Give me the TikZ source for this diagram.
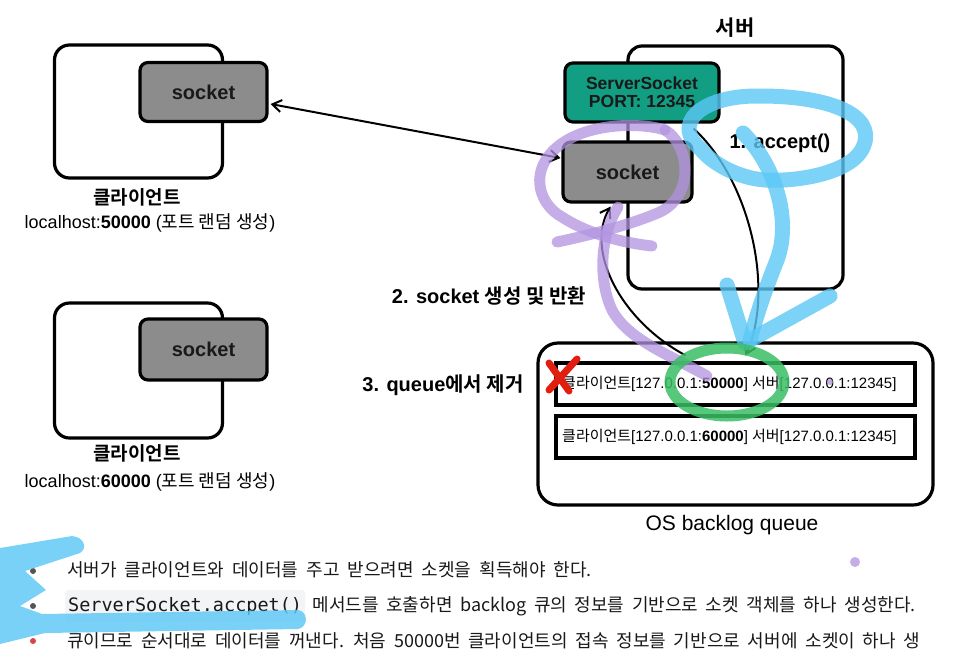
\documentclass[tikz,border=0pt]{standalone}
\usepackage{fontspec}
\setmainfont{Liberation Sans}
\newfontfamily\kr[BoldFont={Noto Sans CJK KR Bold}]{Noto Sans CJK KR}
\newfontfamily\krb{Noto Sans CJK KR Bold}
\setmonofont{DejaVu Sans Mono}
\usetikzlibrary{arrows.meta,calc}
\definecolor{sockgray}{RGB}{140,140,140}
\definecolor{teal}{RGB}{17,158,130}
\definecolor{purp}{RGB}{178,148,225}
\definecolor{skyb}{RGB}{92,200,246}
\definecolor{grn}{RGB}{58,190,100}
\definecolor{redx}{RGB}{225,30,15}
\definecolor{codebg}{RGB}{243,244,246}
\definecolor{bulg}{RGB}{85,85,85}
\definecolor{bulr}{RGB}{215,70,70}
\definecolor{ink}{RGB}{25,25,25}
\newcommand\K[1]{{\kr #1}}
\newcommand\KB[1]{{\krb #1}}
\newcommand\fs[1]{\fontsize{#1}{#1}\selectfont}
\newcommand\wsp[1]{\spaceskip=#1pt plus 1pt minus 1pt\relax}
\tikzset{
  outerbox/.style={draw, line width=3.2pt, rounded corners=15pt, inner sep=0pt},
  sockbox/.style={draw, line width=3.2pt, rounded corners=8pt, fill=sockgray, inner sep=0pt, font=\bfseries\fs{20}, text=ink},
  rowbox/.style={draw, line width=3.2pt, inner sep=0pt, minimum width=359pt, minimum height=42pt},
  lbl/.style={inner sep=0pt},
  note/.style={inner sep=0pt, anchor=west, text=ink},
  barb/.tip={Straight Barb[length=9pt,width=12pt,line width=2pt]},
  arr/.style={line width=2pt, -barb},
  scrP/.style={draw=purp, line width=11pt, opacity=0.75, line cap=round, line join=round},
  scrB/.style={draw=skyb, line width=15pt, opacity=0.8, line cap=round, line join=round},
  scrG/.style={draw=grn, line width=11pt, opacity=0.85, line cap=round},
}
\begin{document}
\begin{tikzpicture}[x=1pt,y=-1pt]
\useasboundingbox (0,0) rectangle (976,665);
\fill[white] (0,0) rectangle (976,665);

% clients
\node[outerbox, minimum width=168pt, minimum height=133pt] (c1out) at (138.5,111.5) {};
\node[sockbox, minimum width=127pt, minimum height=59pt] (c1sock) at (203.5,92) {socket};
\node[lbl, font=\fs{19}] (c1name) at (137,197) {\KB{클라이언트}};
\node[lbl, font=\fs{18}] (c1host) at (150,223) {localhost:\textbf{50000} (\K{포트 랜덤 생성})};

\node[outerbox, minimum width=168pt, minimum height=135pt] (c2out) at (138.5,370.5) {};
\node[sockbox, minimum width=127pt, minimum height=61pt] (c2sock) at (203.5,349.5) {socket};
\node[lbl, font=\fs{19}] (c2name) at (137,453) {\KB{클라이언트}};
\node[lbl, font=\fs{18}] (c2host) at (150,482) {localhost:\textbf{60000} (\K{포트 랜덤 생성})};

% server
\node[outerbox, rounded corners=14pt, minimum width=215pt, minimum height=243pt] (srv) at (735.5,167.5) {};
\node[lbl, font=\fs{21}] (srvname) at (735,28) {\KB{서버}};
\node[sockbox, fill=teal, minimum width=154pt, minimum height=59pt, font=\bfseries\fs{17.5}, align=center] (ss) at (642,92.5) {ServerSocket\\[0pt]PORT: 12345};
\node[sockbox, minimum width=129pt, minimum height=60pt] (ssock) at (627.5,172) {socket};

% queue
\node[outerbox, rounded corners=20pt, minimum width=395pt, minimum height=162pt] (queue) at (735.5,424) {};
\node[rowbox] (row1) at (735.5,384) {};
\node[rowbox] (row2) at (735.5,437) {};
\node[lbl, anchor=west, font=\fs{15}] (row1t) at (562,384) {\K{클라이언트}[127.0.0.1:\textbf{50000}] \K{서버}[127.0.0.1:12345]};
\node[lbl, anchor=west, font=\fs{15}] (row2t) at (562,437) {\K{클라이언트}[127.0.0.1:\textbf{60000}] \K{서버}[127.0.0.1:12345]};
\node[lbl, font=\fs{21}] (qname) at (732,525) {OS backlog queue};

% step labels
\node[lbl, font=\fs{20}] (s1) at (780,143) {\textbf{1. accept()}};
\node[lbl, font=\fs{20}] (s2) at (489,296) {\textbf{2. socket} \KB{생성 및 반환}};
\node[lbl, font=\fs{20}] (s3) at (443,385) {\textbf{3. queue}\KB{에서 제거}};

% connectors
\draw[line width=2pt, barb-barb]
  ($(c1sock.east)+(2,12)$) -- ($(ssock.west)+(-1,-14)$);
\draw[arr] ($(ss.south east)+(-27,5)$) .. controls (750,180) and (775,290) .. ($(row1.north)+(10,-6)$);
\draw[arr] ($(row1.north)+(-50,-6)$) .. controls (620,320) and (585,250) .. ($(ssock.south)+(-17,3)$);

% red X
\draw[redx, line width=7pt, line cap=round] (549,363) -- (569,391);
\draw[redx, line width=7pt, line cap=round] (577,359) -- (549,390);

% scribbles
\draw[scrP] (665,130) .. controls (640,122) and (580,122) .. (552,152) .. controls (530,175) and (540,205) .. (562,217) .. controls (590,235) and (625,243) .. (652,246);
\draw[scrP] (665,130) .. controls (690,145) and (695,195) .. (660,212) .. controls (630,225) and (590,235) .. (557,242);
\draw[scrP] (618,207) .. controls (600,235) and (598,280) .. (612,310) .. controls (628,340) and (670,355) .. (707,376);
\fill[purp, opacity=0.75] (830,382) circle (3pt);
\fill[purp, opacity=0.75] (855,562) circle (5pt);

\draw[scrB] (702,150) .. controls (670,125) and (700,95) .. (760,96) .. controls (830,96) and (875,115) .. (864,145) .. controls (855,172) and (800,182) .. (765,180) .. controls (735,178) and (708,160) .. (700,148);
\draw[scrB] (743,133) .. controls (775,165) and (792,220) .. (777,260) .. controls (765,290) and (755,320) .. (750,340);
\draw[scrB] (727,285) -- (745,343) -- (830,296);

\draw[scrG] (727,382) ellipse [x radius=57pt, y radius=34pt];

% bottom notes
\fill[bulg] (33,571) circle (3pt);
\fill[bulg] (33,606) circle (3pt);
\fill[bulr] (33,641) circle (3pt);
\node[note, font=\kr\fs{18}] (n1) at (67,570) {\wsp{8}서버가 클라이언트와 데이터를 주고 받으려면 소켓을 획득해야 한다.};
\node[anchor=west, fill=codebg, rounded corners=3pt, inner xsep=3pt, minimum height=32pt, font=\ttfamily\fs{18.5}, text=ink] (code) at (65,606) {ServerSocket.accpet()};
\node[note, font=\kr\fs{18}] (n2) at ($(code.east)+(7,0)$) {\wsp{7.6}메서드를 호출하면 backlog 큐의 정보를 기반으로 소켓 객체를 하나 생성한다.};
\node[note, font=\kr\fs{18}] (n3) at (67,641) {\wsp{7.8}큐이므로 순서대로 데이터를 꺼낸다. 처음 50000번 클라이언트의 접속 정보를 기반으로 서버에 소켓이 하나 생};

\fill[skyb, opacity=0.82] (0,548) -- (72,536) .. controls (84,537) and (88,548) .. (80,553) -- (25,571) -- (46,590) -- (20,606) -- (42,614) -- (298,610) .. controls (308,611) and (309,627) .. (298,629) -- (45,633) -- (0,644) -- cycle;
\end{tikzpicture}
\end{document}
